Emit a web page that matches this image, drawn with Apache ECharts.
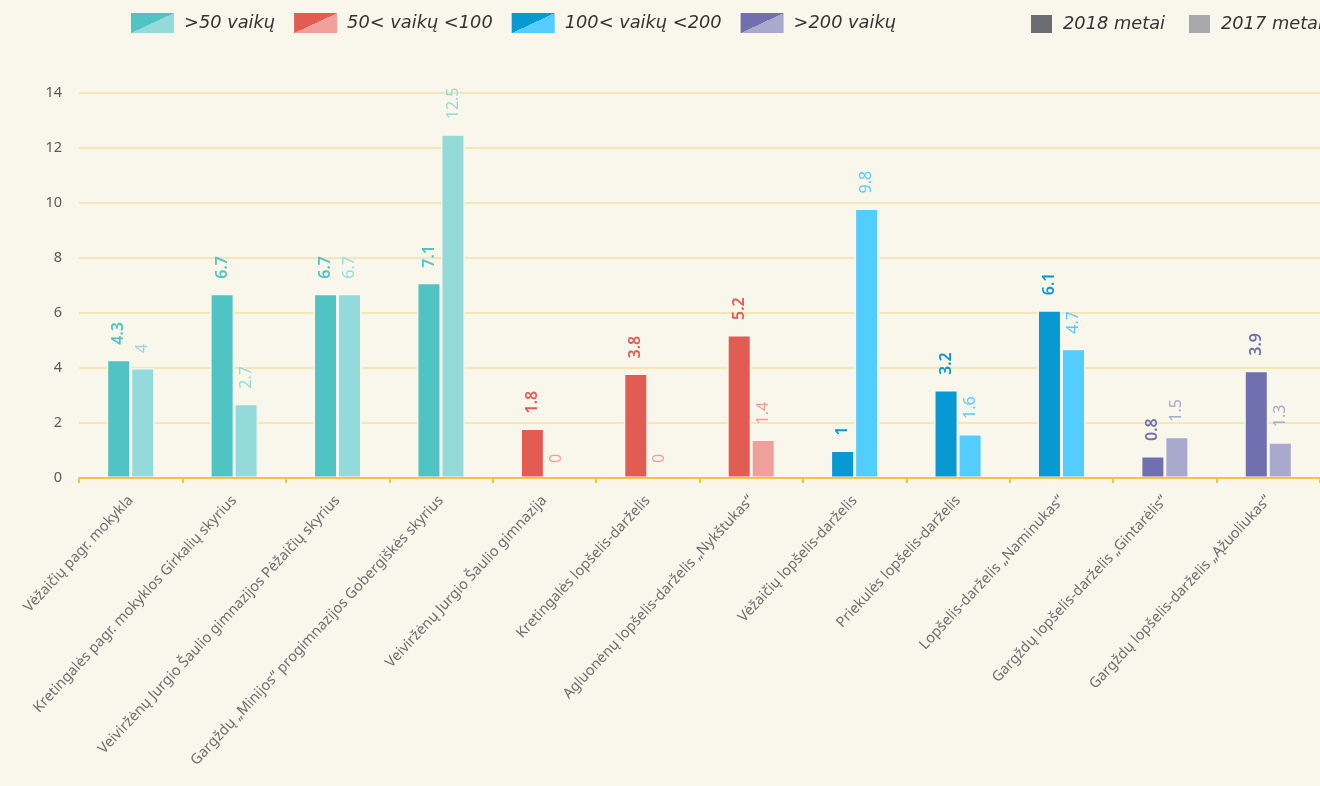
<!DOCTYPE html>
<html>
<head>
<meta charset="utf-8">
<script src="https://cdn.jsdelivr.net/npm/echarts@6/dist/echarts.min.js"></script>
<style>
html,body{margin:0;padding:0;background:#f9f7eb;}
#chart{width:1320px;height:786px;}
</style>
</head>
<body>
<div id="chart"></div>
<script>
// ---- data ----
const categories = [
  'Vėžaičių pagr. mokykla',
  'Kretingalės pagr. mokyklos Girkalių skyrius',
  'Veiviržėnų Jurgio Šaulio gimnazijos Pėžaičių skyrius',
  'Gargždų „Minijos“ progimnazijos Gobergiškės skyrius',
  'Veiviržėnų Jurgio Šaulio gimnazija',
  'Kretingalės lopšelis-darželis',
  'Agluonėnų lopšelis-darželis „Nykštukas“',
  'Vėžaičių lopšelis-darželis',
  'Priekulės lopšelis-darželis',
  'Lopšelis-darželis „Naminukas“',
  'Gargždų lopšelis-darželis „Gintarėlis“',
  'Gargždų lopšelis-darželis „Ąžuoliukas“'
];
const values2018 = [4.3, 6.7, 6.7, 7.1, 1.8, 3.8, 5.2, 1, 3.2, 6.1, 0.8, 3.9];
const values2017 = [4, 2.7, 6.7, 12.5, 0, 0, 1.4, 9.8, 1.6, 4.7, 1.5, 1.3];
const groupOf = [0, 0, 0, 0, 1, 1, 1, 2, 2, 2, 3, 3];
const groupNames = ['>50 vaikų', '50< vaikų <100', '100< vaikų <200', '>200 vaikų'];
const yearNames = ['2018 metai', '2017 metai'];
const yTicks = [0, 2, 4, 6, 8, 10, 12, 14];

// ---- styles ----
const darkColors = ['#50c3c4', '#e35c54', '#0899d3', '#6f70ad'];
const lightColors = ['#95dadb', '#f0a09b', '#52cdfd', '#a8a9cc'];
const yearColors = ['#6b6c70', '#a7a8ab'];
const bg = '#f9f7eb';

// gradient whose 50% line runs from the bottom-left to the top-right corner
// of a w x h box
function splitGradient(dark, light, w, h) {
  const r = (h * h) / (w * w);
  return {
    type: 'linear', x: 0.5 - r / 2, y: 0, x2: 0.5 + r / 2, y2: 1,
    colorStops: [
      {offset: 0, color: dark}, {offset: 0.5, color: dark},
      {offset: 0.5, color: light}, {offset: 1, color: light}
    ]
  };
}

function barData(vals, palette) {
  return vals.map((v, i) => ({
    value: v,
    itemStyle: {color: palette[groupOf[i]], borderWidth: v === 0 ? 0 : 1.5},
    label: {color: palette[groupOf[i]]}
  }));
}

const dummySeries = groupNames.map((n, i) => ({
  name: n, type: 'scatter', data: [],
  itemStyle: {color: splitGradient(darkColors[i], lightColors[i], 43, 20), opacity: 1}
}));

const legendText = {fontFamily: 'DejaVu Sans', fontStyle: 'italic', fontSize: 17.8, color: '#333', padding: [0, 0, 0, 5]};

const chart = echarts.init(document.getElementById('chart'), null, {renderer: 'canvas'});
chart.setOption({
  backgroundColor: bg,
  animation: false,
  legend: [
    {
      data: groupNames, left: 131, top: 13, width: 850, padding: 0,
      itemWidth: 43, itemHeight: 20, itemGap: 19, icon: 'rect',
      selectedMode: false, textStyle: legendText
    },
    {
      data: yearNames, left: 1029, top: 13, width: 600, padding: 0,
      itemWidth: 23, itemHeight: 20, itemGap: 22, icon: 'rect',
      selectedMode: false, textStyle: legendText
    }
  ],
  grid: {left: 79, right: -7, top: 93, bottom: 308, containLabel: false},
  xAxis: {
    type: 'category',
    data: categories,
    z: 3,
    axisLine: {lineStyle: {color: '#f5c343', width: 2}},
    axisTick: {show: true, length: 5, lineStyle: {color: '#f5c343', width: 2}},
    axisLabel: {
      rotate: 47, interval: 0, margin: 20,
      fontFamily: 'Noto Sans', fontSize: 14.5, color: '#6d6e71'
    }
  },
  yAxis: {
    type: 'value', min: 0, max: 14, interval: 2,
    axisLine: {show: false}, axisTick: {show: false},
    splitLine: {lineStyle: {color: '#f8e6b2', width: 2}},
    axisLabel: {
      margin: 17, fontFamily: 'Noto Sans', fontSize: 14.5, color: '#58595b',
      formatter: v => yTicks.includes(v) ? String(v) : ''
    }
  },
  series: [
    {
      name: yearNames[0], type: 'bar', barWidth: 24, barGap: '0%',
      itemStyle: {color: yearColors[0], borderColor: bg, borderWidth: 1.5},
      label: {show: true, position: 'top', rotate: 90, distance: 15, align: 'left', verticalAlign: 'middle',
        fontFamily: 'Noto Sans', fontSize: 16, fontWeight: 600},
      data: barData(values2018, darkColors)
    },
    {
      name: yearNames[1], type: 'bar', barWidth: 24, barGap: '0%',
      itemStyle: {color: yearColors[1], borderColor: bg, borderWidth: 1.5},
      label: {show: true, position: 'top', rotate: 90, distance: 15, align: 'left', verticalAlign: 'middle',
        fontFamily: 'Noto Sans', fontSize: 16, fontWeight: 400},
      data: barData(values2017, lightColors)
    }
  ].concat(dummySeries)
});
</script>
</body>
</html>
